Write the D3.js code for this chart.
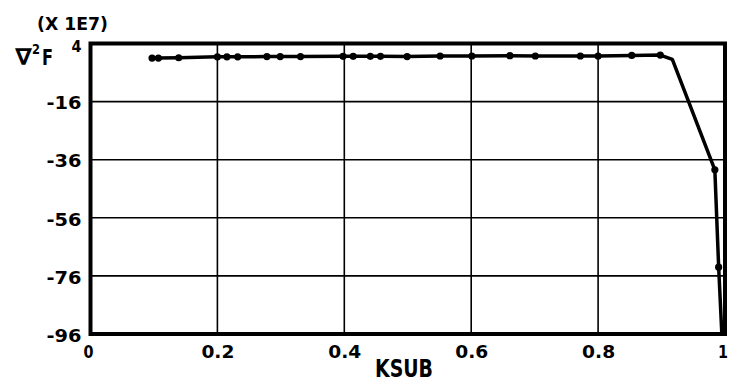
<!DOCTYPE html>
<html>
<head>
<meta charset="utf-8">
<script src="https://cdn.jsdelivr.net/npm/d3@7"></script>
<style>
  body { margin: 0; background: #fff; }
  svg { display: block; }
  text { font-family: "DejaVu Sans", sans-serif; font-weight: bold; fill: #000; }
</style>
</head>
<body>
<svg id="chart" width="730" height="383"></svg>
<script>
// KSUB sample positions and the Laplacian of F (units of 1E7) at each one
const ksub = [0.097, 0.107, 0.139, 0.200, 0.215, 0.232, 0.278, 0.299, 0.331,
              0.398, 0.414, 0.441, 0.457, 0.499, 0.551, 0.601, 0.661, 0.701,
              0.772, 0.800, 0.853, 0.898, 0.917, 0.984, 0.990, 0.995];
const lapF = [-1.0, -1.0, -0.9, -0.6, -0.6, -0.6, -0.5, -0.5, -0.5,
              -0.4, -0.4, -0.4, -0.4, -0.5, -0.3, -0.3, -0.2, -0.3,
              -0.3, -0.3, -0.1, 0.0, -1.5, -39.5, -73.0, -96.0];
// samples drawn with a dot (the knee at 0.917 is only a joint of the line)
const dotted = [1,1,1,1,1,1,1,1,1, 1,1,1,1,1,1,1,1,1, 1,1,1,1,0,1,1,0];

const xTicks = [0, 0.2, 0.4, 0.6, 0.8, 1];
const xTickLabels = ["0", "0.2", "0.4", "0.6", "0.8", "1"];
const yTicks = [4, -16, -36, -56, -76, -96];
const yTickLabels = ["4", "-16", "-36", "-56", "-76", "-96"];

const svg = d3.select("#chart");
const plotL = 90.5, plotR = 725, plotT = 43.5, plotB = 334;

const x = d3.scaleLinear().domain([0, 1]).range([plotL, plotR]);
const y = d3.scaleLinear().domain([-96, 4]).range([plotB, plotT]);

// grid lines
const grid = svg.append("g").attr("stroke", "#000").attr("stroke-width", 1.6);
grid.selectAll("line.v").data(xTicks.slice(1, -1)).join("line").attr("class", "v")
  .attr("x1", d => x(d)).attr("x2", d => x(d))
  .attr("y1", plotT).attr("y2", plotB);
grid.selectAll("line.h").data(yTicks.slice(1, -1)).join("line").attr("class", "h")
  .attr("y1", d => y(d)).attr("y2", d => y(d))
  .attr("x1", plotL).attr("x2", plotR);

// y axis labels
const yAxis = d3.axisLeft(y).tickValues(yTicks).tickSize(0).tickPadding(9)
  .tickFormat((d, i) => yTickLabels[i]);
const gy = svg.append("g").attr("transform", `translate(${plotL},0)`).call(yAxis);
gy.select(".domain").remove();
gy.selectAll("text")
  .style("font-family", '"DejaVu Sans", sans-serif')
  .style("font-weight", "bold")
  .attr("font-size", d => d === 4 ? 15 : 18)
  .attr("dy", d => d === 4 ? "0.5em" : "0.4em")
  .attr("textLength", d => d === 4 ? 10 : 35)
  .attr("lengthAdjust", "spacingAndGlyphs");

// x axis labels
const xAxis = d3.axisBottom(x).tickValues(xTicks).tickSize(0).tickPadding(11)
  .tickFormat((d, i) => xTickLabels[i]);
const gx = svg.append("g").attr("transform", `translate(0,${plotB})`).call(xAxis);
gx.select(".domain").remove();
gx.selectAll("text")
  .style("font-family", '"DejaVu Sans", sans-serif')
  .style("font-weight", "bold")
  .attr("font-size", 18)
  .attr("dy", "0.72em")
  .attr("textLength", d => (d === 0 || d === 1) ? 10 : 33)
  .attr("lengthAdjust", "spacingAndGlyphs");
gx.selectAll(".tick").filter(d => d === 0).attr("transform", `translate(${x(0) - 2},0)`);
gx.selectAll(".tick").filter(d => d === 1).attr("transform", `translate(${x(1) - 2},0)`);

// frame
svg.append("rect")
  .attr("x", plotL).attr("y", plotT)
  .attr("width", plotR - plotL).attr("height", plotB - plotT)
  .attr("fill", "none").attr("stroke", "#000").attr("stroke-width", 4);

// data curve
const pts = ksub.map((k, i) => ({ k, v: lapF[i], dot: dotted[i] }));
svg.append("path")
  .datum(pts)
  .attr("fill", "none").attr("stroke", "#000")
  .attr("stroke-width", 3.5).attr("stroke-linejoin", "round").attr("stroke-linecap", "round")
  .attr("d", d3.line().x(d => x(d.k)).y(d => y(d.v)));
svg.append("g").selectAll("circle").data(pts.filter(d => d.dot)).join("circle")
  .attr("cx", d => x(d.k)).attr("cy", d => y(d.v)).attr("r", 3.6).attr("fill", "#000");

// titles
svg.append("text").attr("x", 404).attr("y", 377).attr("text-anchor", "middle")
  .attr("font-size", 25).attr("textLength", 58).attr("lengthAdjust", "spacingAndGlyphs")
  .text("KSUB");
svg.append("text").attr("x", 37).attr("y", 30)
  .attr("font-size", 17).attr("textLength", 71).attr("lengthAdjust", "spacingAndGlyphs")
  .text("(X 1E7)");
// y-axis quantity: nabla squared F
svg.append("text").attr("x", 15).attr("y", 65).attr("font-size", 23)
  .attr("textLength", 17).attr("lengthAdjust", "spacingAndGlyphs").text("\u2207");
svg.append("text").attr("x", 32).attr("y", 54).attr("font-size", 14)
  .attr("textLength", 8).attr("lengthAdjust", "spacingAndGlyphs").text("2");
svg.append("text").attr("x", 42).attr("y", 65).attr("font-size", 21)
  .attr("textLength", 11).attr("lengthAdjust", "spacingAndGlyphs").text("F");
</script>
</body>
</html>
